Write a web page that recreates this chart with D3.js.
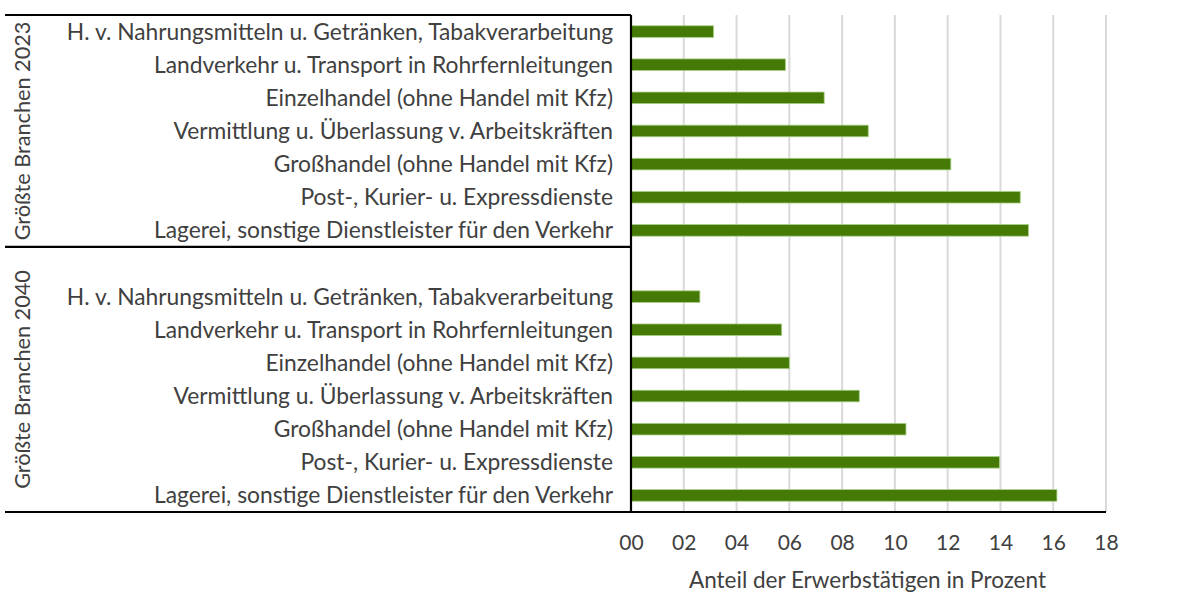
<!doctype html>
<html lang="de">
  <head>
    <meta charset="utf-8">
    <title>Größte Branchen 2023 / 2040</title>
    <script src="https://d3js.org/d3.v7.min.js"></script>
    <style>
    body { margin: 0; background: #fff; }
    text { font-family: Lato, "Liberation Sans", sans-serif; fill: #404040; }
    .grid line { stroke: #d9d9d9; stroke-width: 2; }
    .frame { stroke: #000; stroke-width: 2.2; }
    </style>
  </head>
  <body>
    <svg width="1181" height="593"></svg>

    <script>
      // data
      var categories = [
        'H. v. Nahrungsmitteln u. Getränken, Tabakverarbeitung',
        'Landverkehr u. Transport in Rohrfernleitungen',
        'Einzelhandel (ohne Handel mit Kfz)',
        'Vermittlung u. Überlassung v. Arbeitskräften',
        'Großhandel (ohne Handel mit Kfz)',
        'Post-, Kurier- u. Expressdienste',
        'Lagerei, sonstige Dienstleister für den Verkehr'
      ];
      var groups = ['Größte Branchen 2023', 'Größte Branchen 2040'];
      var values2023 = [3.13, 5.85, 7.32, 8.99, 12.12, 14.75, 15.06];
      var values2040 = [2.61, 5.71, 6.0, 8.65, 10.42, 13.96, 16.14];
      var xTicks = [0, 2, 4, 6, 8, 10, 12, 14, 16, 18];
      var xTitle = 'Anteil der Erwerbstätigen in Prozent';

      var svg = d3.select('svg');

      var plotLeft = 631, plotRight = 1106, plotTop = 15, plotBottom = 512, frameLeft = 5;

      // 15 slots: 7 bars, one empty slot, 7 bars
      var rows = [];
      categories.forEach(function(c, i){ rows.push({key: 'a' + i, cat: c, value: values2023[i]}); });
      rows.push({key: 'gap', cat: '', value: null});
      categories.forEach(function(c, i){ rows.push({key: 'b' + i, cat: c, value: values2040[i]}); });
      var barRows = rows.filter(function(d){ return d.value !== null; });

      var x = d3.scaleLinear().domain([0, 18]).range([plotLeft, plotRight]);
      var y = d3.scaleBand()
        .domain(rows.map(function(d){ return d.key; }))
        .range([plotTop, plotBottom])
        .paddingInner(0.65)
        .paddingOuter(0.325);

      // gridlines
      svg.append('g').attr('class', 'grid')
        .selectAll('line').data(xTicks.slice(1))
        .enter().append('line')
          .attr('x1', function(d){ return x(d); })
          .attr('x2', function(d){ return x(d); })
          .attr('y1', plotTop)
          .attr('y2', plotBottom);

      // bars
      svg.append('g').selectAll('rect')
        .data(barRows)
        .enter().append('rect')
          .attr('x', x(0))
          .attr('y', function(d){ return y(d.key); })
          .attr('width', function(d){ return x(d.value) - x(0); })
          .attr('height', y.bandwidth())
          .attr('fill', '#467a06')
          .attr('stroke', '#a8cf86')
          .attr('stroke-width', 0.8);

      // category labels
      svg.append('g').selectAll('text')
        .data(barRows)
        .enter().append('text')
          .attr('x', 613)
          .attr('y', function(d){ return y(d.key) + y.bandwidth() / 2; })
          .attr('dy', '0.35em')
          .attr('text-anchor', 'end')
          .style('font-size', '22.8px')
          .text(function(d){ return d.cat; });

      // group boundaries
      var groupEdges = [plotTop, plotTop + 7 * y.step(), plotBottom];

      var frame = svg.append('g');
      frame.append('line').attr('class', 'frame')
        .attr('x1', frameLeft).attr('x2', plotLeft).attr('y1', plotTop).attr('y2', plotTop);
      frame.append('line').attr('class', 'frame')
        .attr('x1', frameLeft).attr('x2', plotLeft).attr('y1', groupEdges[1]).attr('y2', groupEdges[1]);
      frame.append('line').attr('class', 'frame')
        .attr('x1', frameLeft).attr('x2', plotRight).attr('y1', plotBottom).attr('y2', plotBottom);
      frame.append('line').attr('class', 'frame')
        .attr('x1', plotLeft).attr('x2', plotLeft).attr('y1', plotTop).attr('y2', plotBottom);

      // group labels
      svg.append('g').selectAll('text').data(groups)
        .enter().append('text')
          .attr('transform', function(d, i){
            var cy = (groupEdges[i] + groupEdges[i + 1]) / 2;
            return 'translate(22,' + cy + ') rotate(-90)';
          })
          .attr('dy', '0.35em')
          .attr('text-anchor', 'middle')
          .style('font-size', '21.7px')
          .text(function(d){ return d; });

      // x axis labels
      var xAxis = d3.axisBottom(x).tickValues(xTicks).tickSize(0).tickPadding(0)
        .tickFormat(d3.format('02d'));
      var gx = svg.append('g')
        .attr('transform', 'translate(0,' + plotBottom + ')')
        .call(xAxis);
      gx.select('.domain').remove();
      gx.selectAll('text')
        .attr('y', 38)
        .attr('dy', 0)
        .style('font-size', '21px')
        .style('font-family', 'Lato, sans-serif')
        .attr('fill', '#404040');

      svg.append('text')
        .attr('x', (plotLeft + plotRight) / 2 - 1)
        .attr('y', 588)
        .attr('text-anchor', 'middle')
        .style('font-size', '22.5px')
        .text(xTitle);
    </script>
  </body>
</html>
